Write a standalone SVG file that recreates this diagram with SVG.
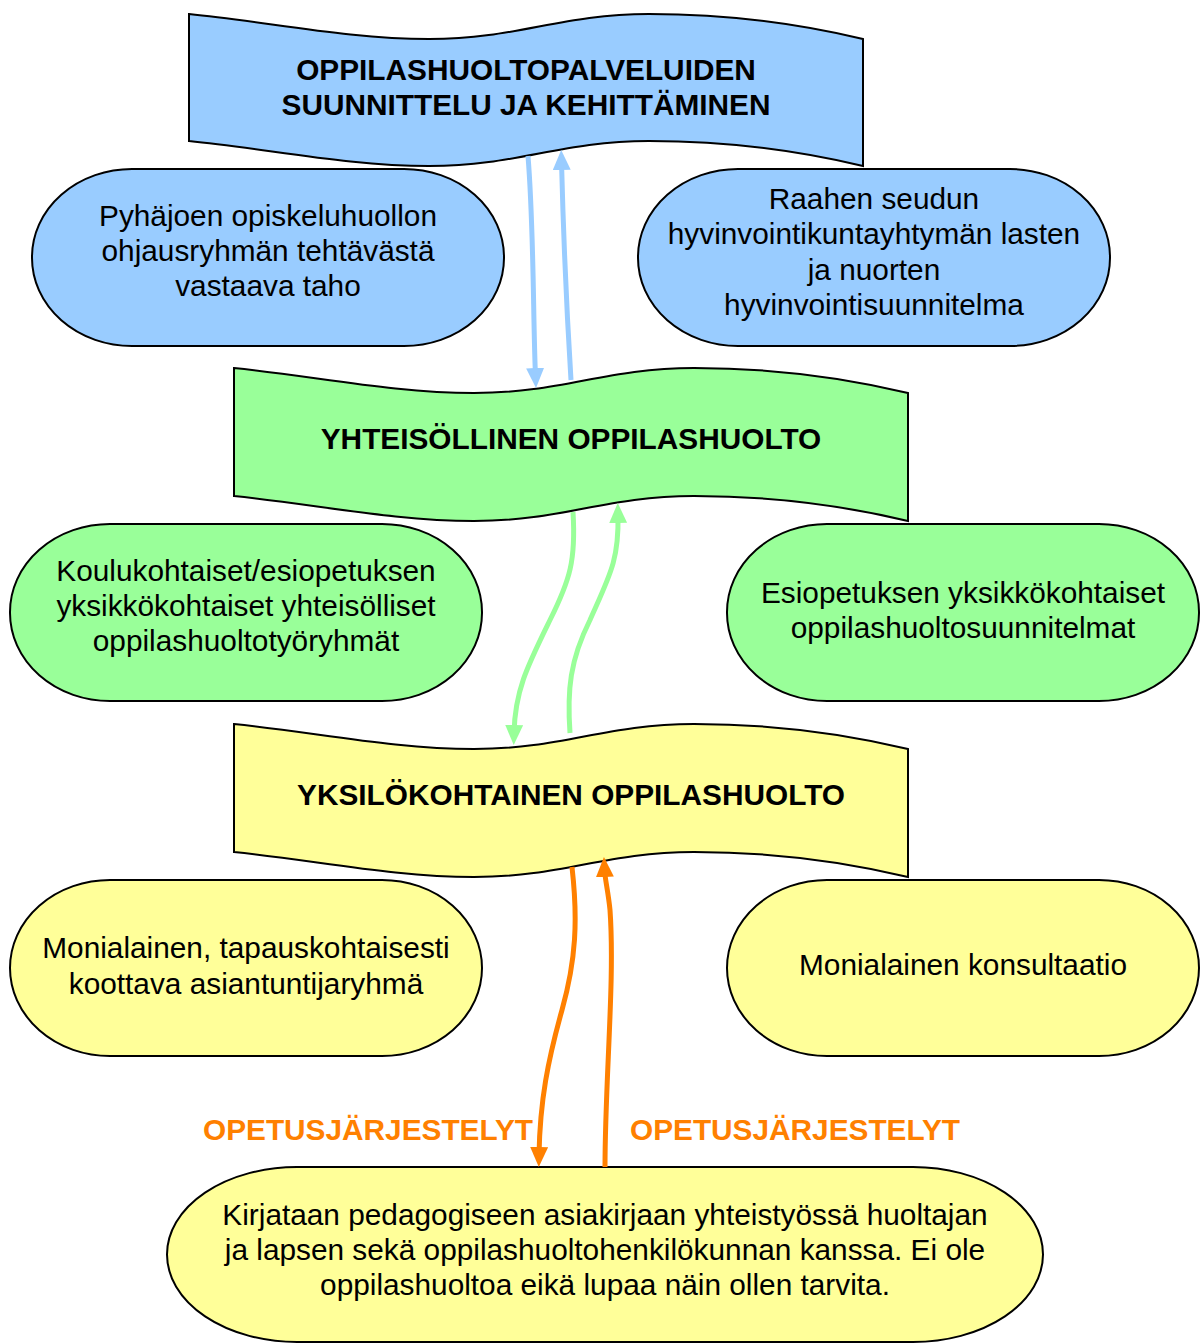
<svg xmlns="http://www.w3.org/2000/svg" width="1200" height="1343" viewBox="0 0 1200 1343">
<defs>
<style>
.shape{stroke:#000;stroke-width:2}
.blue{fill:#99ccff}
.green{fill:#99ff99}
.yellow{fill:#ffff99}
.t{font-family:"Liberation Sans",Arial,sans-serif;font-size:29.8px;fill:#000;text-anchor:middle}
.b{font-family:"Liberation Sans",Arial,sans-serif;font-size:29.8px;font-weight:bold;fill:#000;text-anchor:middle}
.o{font-family:"Liberation Sans",Arial,sans-serif;font-size:29.8px;font-weight:bold;fill:#ff8000;text-anchor:middle}
.c{fill:none;stroke-width:5}
</style>
<marker id="ab" markerUnits="userSpaceOnUse" markerWidth="20" markerHeight="18" refX="8" refY="9" orient="auto"><path d="M0,0 L20,9 L0,18 Z" fill="#99ccff"/></marker>
<marker id="ag" markerUnits="userSpaceOnUse" markerWidth="20" markerHeight="18" refX="8" refY="9" orient="auto"><path d="M0,0 L20,9 L0,18 Z" fill="#99ff99"/></marker>
<marker id="ao" markerUnits="userSpaceOnUse" markerWidth="20" markerHeight="18" refX="8" refY="9" orient="auto"><path d="M0,0 L20,9 L0,18 Z" fill="#ff8000"/></marker>
</defs>
<rect width="1200" height="1343" fill="#fff"/>

<g id="n-blue-banner">
<path class="shape blue" d="M189,14 C269,22 349,39 429,39 C519,39 559,14 649,14 C739,14 809,26 863,39 L863,166 C809,153 739,141 649,141 C559,141 519,166 429,166 C349,166 269,149 189,141 Z"/>
<text class="b" x="526" y="80">OPPILASHUOLTOPALVELUIDEN</text>
<text class="b" x="526" y="115">SUUNNITTELU JA KEHITTÄMINEN</text>
</g>

<g id="n-blue-left">
<rect class="shape blue" x="32" y="169" width="472" height="177" rx="100" ry="88"/>
<text class="t" x="268" y="226">Pyhäjoen opiskeluhuollon</text>
<text class="t" x="268" y="261">ohjausryhmän tehtävästä</text>
<text class="t" x="268" y="296">vastaava taho</text>
</g>

<g id="n-blue-right">
<rect class="shape blue" x="638" y="169" width="472" height="177" rx="100" ry="88"/>
<text class="t" x="874" y="209">Raahen seudun</text>
<text class="t" x="874" y="244">hyvinvointikuntayhtymän lasten</text>
<text class="t" x="874" y="280">ja nuorten</text>
<text class="t" x="874" y="315">hyvinvointisuunnitelma</text>
</g>

<g id="n-green-banner">
<path class="shape green" d="M234,368 C314,376 394,393 474,393 C564,393 604,368 694,368 C784,368 854,380 908,393 L908,521 C854,508 784,496 694,496 C604,496 564,521 474,521 C394,521 314,504 234,496 Z"/>
<text class="b" x="571" y="449">YHTEISÖLLINEN OPPILASHUOLTO</text>
</g>

<g id="n-green-left">
<rect class="shape green" x="10" y="524" width="472" height="177" rx="100" ry="88"/>
<text class="t" x="246" y="581">Koulukohtaiset/esiopetuksen</text>
<text class="t" x="246" y="616">yksikkökohtaiset yhteisölliset</text>
<text class="t" x="246" y="651">oppilashuoltotyöryhmät</text>
</g>

<g id="n-green-right">
<rect class="shape green" x="727" y="524" width="472" height="177" rx="100" ry="88"/>
<text class="t" x="963" y="603">Esiopetuksen yksikkökohtaiset</text>
<text class="t" x="963" y="638">oppilashuoltosuunnitelmat</text>
</g>

<g id="n-yellow-banner">
<path class="shape yellow" d="M234,724 C314,732 394,749 474,749 C564,749 604,724 694,724 C784,724 854,736 908,749 L908,877 C854,864 784,852 694,852 C604,852 564,877 474,877 C394,877 314,860 234,852 Z"/>
<text class="b" x="571" y="805">YKSILÖKOHTAINEN OPPILASHUOLTO</text>
</g>

<g id="n-yellow-left">
<rect class="shape yellow" x="10" y="880" width="472" height="176" rx="100" ry="88"/>
<text class="t" x="246" y="958">Monialainen, tapauskohtaisesti</text>
<text class="t" x="246" y="994">koottava asiantuntijaryhmä</text>
</g>

<g id="n-yellow-right">
<rect class="shape yellow" x="727" y="880" width="472" height="176" rx="100" ry="88"/>
<text class="t" x="963" y="975">Monialainen konsultaatio</text>
</g>

<g id="n-bottom">
<rect class="shape yellow" x="167" y="1167" width="876" height="175" rx="130" ry="87.5"/>
<text class="t" x="605" y="1225">Kirjataan pedagogiseen asiakirjaan yhteistyössä huoltajan</text>
<text class="t" x="605" y="1260">ja lapsen sekä oppilashuoltohenkilökunnan kanssa. Ei ole</text>
<text class="t" x="605" y="1295">oppilashuoltoa eikä lupaa näin ollen tarvita.</text>
</g>

<g id="connectors">
<path class="c" stroke="#99ccff" marker-end="url(#ab)" d="M528,156 C534,230 533,320 535.5,376"/>
<path class="c" stroke="#99ccff" marker-end="url(#ab)" d="M571,380 C566,300 563,220 561.5,162"/>
<path class="c" stroke="#99ff99" marker-end="url(#ag)" d="M573,512 C576,560 570,580 550,620 C528,665 515,690 514,733"/>
<path class="c" stroke="#99ff99" marker-end="url(#ag)" d="M570,733 C567,690 570,660 590,620 C610,575 619,560 618,515"/>
<path class="c" stroke="#ff8000" marker-end="url(#ao)" d="M572,867 C578,920 576,960 562,1010 C548,1060 540,1100 539,1155"/>
<path class="c" stroke="#ff8000" marker-end="url(#ao)" d="M605,1167 C605,1080 615,980 610,910 C608,890 605,880 604.5,869"/>
</g>

<g id="labels">
<text class="o" x="368" y="1140">OPETUSJÄRJESTELYT</text>
<text class="o" x="795" y="1140">OPETUSJÄRJESTELYT</text>
</g>
</svg>
